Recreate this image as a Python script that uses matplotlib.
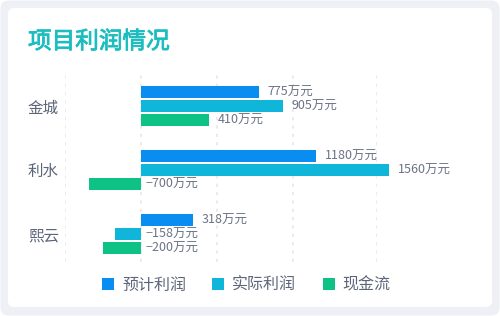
import matplotlib
matplotlib.use("Agg")
import matplotlib.pyplot as plt
from matplotlib.patches import FancyBboxPatch, Patch
import matplotlib.patheffects as pe
import numpy as np

plt.rcParams['font.family'] = ['Noto Sans CJK SC', 'DejaVu Sans']

title = "项目利润情况"
categories = ["金城", "利水", "熙云"]
series = ["预计利润", "实际利润", "现金流"]
# bar lengths as drawn in the picture
planned = [774, 1153, 340]
actual = [932, 1631, -174]
cashflow = [447, -345, -253]
# value labels as printed on the picture
planned_labels = ["775万元", "1180万元", "318万元"]
actual_labels = ["905万元", "1560万元", "−158万元"]
cashflow_labels = ["410万元", "−700万元", "−200万元"]
grid_ticks = [-500, 0, 500, 1000, 1553]

colors = ["#0a8df0", "#10b6da", "#0ec184"]
W, H = 500, 316
fig = plt.figure(figsize=(W / 100, H / 100), dpi=100)
fig.patch.set_facecolor("white")

# background and card
bg = FancyBboxPatch((0.5 / W, 0.5 / H), (W - 1) / W, (H - 1) / H,
                    boxstyle="round,pad=0,rounding_size=0.016",
                    transform=fig.transFigure, facecolor="#eef0f5",
                    edgecolor="none", mutation_aspect=W / H, zorder=-2)
fig.patches.append(bg)
card = FancyBboxPatch((8 / W, 9 / H), (484 / W), (299 / H),
                      boxstyle="round,pad=0,rounding_size=0.012",
                      transform=fig.transFigure, facecolor="white",
                      edgecolor="none", mutation_aspect=W / H, zorder=-1)
fig.patches.append(card)

fig.text(28 / W, 1 - 42 / H, title, fontsize=17, color="#1cbdbf",
         va="center", ha="left",
         path_effects=[pe.withStroke(linewidth=0.6, foreground="#1cbdbf")])

ax = fig.add_axes([65 / W, 1 - 262 / H, 312 / W, 188 / H])
ax.set_facecolor("none")
for s in ax.spines.values():
    s.set_visible(False)

y = np.arange(len(categories))
h = 0.1875
off = 0.219
all_vals = [planned, actual, cashflow]
all_labels = [planned_labels, actual_labels, cashflow_labels]
for i, (vals, labs) in enumerate(zip(all_vals, all_labels)):
    yy = y + (i - 1) * off
    ax.barh(yy, vals, height=h, color=colors[i], clip_on=False, zorder=3,
            label=series[i])
    for yv, v, lab in zip(yy, vals, labs):
        xpos = v if v > 0 else 0
        dx = 9 if v > 0 else 5
        ax.annotate(lab, (xpos, yv), xytext=(dx * 0.72, 0),
                    textcoords="offset points", va="center", ha="left",
                    fontsize=9, color="#6b7385", annotation_clip=False)

ax.set_xlim(-500, 1553)
ax.set_ylim(2.44, -0.5)
for gx in grid_ticks:
    ax.axvline(gx, color="#e6e8ec", lw=1.2, ls=(0, (2, 3)), zorder=1)
ax.set_xticks([])
ax.set_yticks(y)
ax.set_yticklabels(categories, fontsize=11.2, color="#5c6579")
ax.tick_params(axis="y", length=0, pad=0)
for t in ax.get_yticklabels():
    t.set_horizontalalignment("left")
    t.set_transform(ax.get_yaxis_transform())
    t.set_position((-37 / 312, t.get_position()[1]))

handles = [Patch(facecolor=c, edgecolor="none") for c in colors]
fig.legend(handles, series, loc="center left",
           bbox_to_anchor=(102 / W, 1 - 285 / H), ncol=3, frameon=False,
           fontsize=11.5, labelcolor="#5c6579", handlelength=0.75,
           handleheight=0.75, handletextpad=0.5, columnspacing=1.65,
           borderpad=0, borderaxespad=0)

fig.savefig("out.png", dpi=100)
